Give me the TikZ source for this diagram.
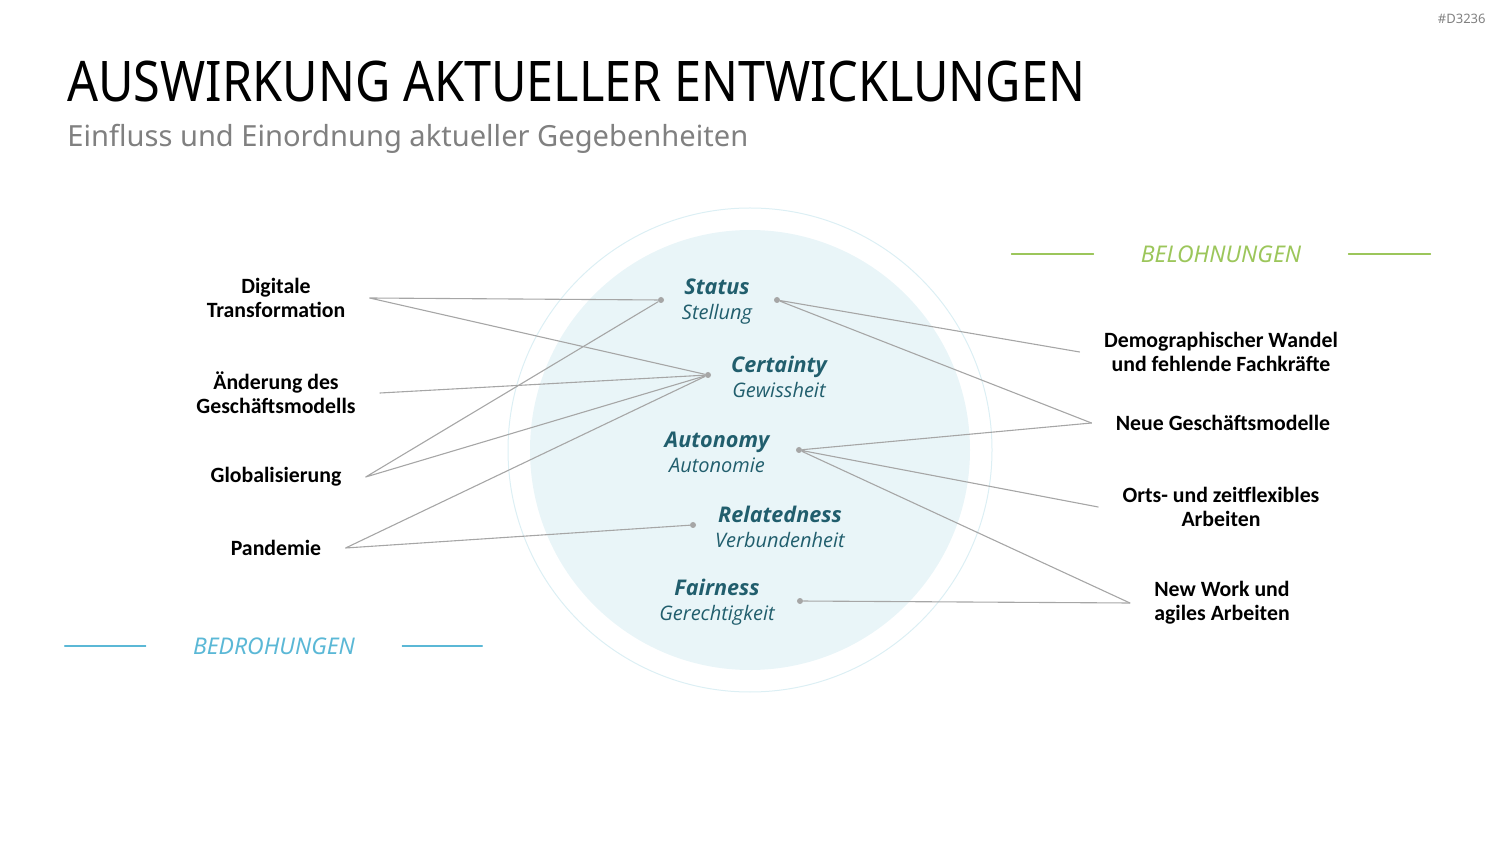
\documentclass[tikz,border=0pt]{standalone}
\usepackage{fontspec}
\setmainfont{Noto Sans}
\newfontfamily\labelfont{Carlito}
\newfontfamily\needfont{Open Sans}
\newfontfamily\titlefont[FakeStretch=0.868]{Noto Sans}
\usepackage{tikz}
\usetikzlibrary{positioning}
\definecolor{teal}{HTML}{215E6D}
\definecolor{wire}{HTML}{A6A6A6}
\definecolor{disk}{HTML}{E9F5F8}
\definecolor{ring}{HTML}{DCEFF4}
\definecolor{green}{HTML}{9CC65B}
\definecolor{blue}{HTML}{5BB8D6}
\definecolor{subgray}{HTML}{808080}
\newcommand{\needlabel}[2]{{\bfseries\fontsize{10.8}{12.5}\selectfont #1}\\#2}
\tikzset{
  every picture/.style={
    line join=round,
    line cap=round,
  },
  need/.style={font=\needfont\fontsize{10}{12.5}\selectfont\itshape, text=teal,
    align=center, inner sep=0pt},
  side/.style={font=\labelfont\bfseries\fontsize{10.9}{12}\selectfont,
    align=center, inner xsep=12pt, inner ysep=0pt},
  dot/.style={circle, fill=wire, inner sep=0pt, minimum size=3pt},
  wire/.style={draw=wire, line width=0.55pt},
  group/.style={font=\itshape\fontsize{11.5}{14}\selectfont, inner xsep=23.5pt},
}

\begin{document}
\begin{tikzpicture}[x=0.5pt, y=-0.5pt]
\useasboundingbox (0,0) rectangle (1500,844);
% heading
\node[anchor=base west, inner sep=0pt, font=\titlefont\fontsize{28}{30}\selectfont]
  (title) at (67,102) {AUSWIRKUNG AKTUELLER ENTWICKLUNGEN};
\node[anchor=base west, inner sep=0pt, text=subgray, font=\fontsize{14.55}{16}\selectfont]
  (subtitle) at (67,147) {Einfluss und Einordnung aktueller Gegebenheiten};
\node[anchor=base east, inner sep=0pt, text=gray, font=\fontsize{6.5}{7}\selectfont]
  (tag) at (1486,24) {\#D3236};

% circle
\draw[ring, line width=0.5pt] (750,450) circle (242);
\fill[disk] (750,450) circle (220);

% needs
\node[need] (st) at (717,302) {\needlabel{Status}{Stellung}};
\node[need] (ce) at (779,377) {\needlabel{Certainty}{Gewissheit}};
\node[need] (au) at (717,452) {\needlabel{Autonomy}{Autonomie}};
\node[need] (re) at (780,527) {\needlabel{Relatedness}{Verbundenheit}};
\node[need] (fa) at (717,602) {\needlabel{Fairness}{Gerechtigkeit}};

\node[dot] (st-l) at (661,300) {};
\node[dot] (st-r) at (777,300) {};
\node[dot] (ce-l) at (708,375) {};
\node[dot] (au-r) at (799,450) {};
\node[dot] (re-l) at (693,525) {};
\node[dot] (fa-r) at (800,601) {};

% threats
\node[side] (dt) at (276,298) {Digitale\\Transformation};
\node[side] (ag) at (276,393) {Änderung des\\Geschäftsmodells};
\node[side] (gl) at (276,477) {Globalisierung};
\node[side] (pa) at (276,548) {Pandemie};

% rewards
\node[side] (dw) at (1221,352) {Demographischer Wandel\\und fehlende Fachkräfte};
\node[side] (ng) at (1223,423) {Neue Geschäftsmodelle};
\node[side] (oz) at (1221,507) {Orts- und zeitflexibles\\Arbeiten};
\node[side] (nw) at (1222,603) {New Work und\\agiles Arbeiten};

\draw[wire] (dt.east) -- (st-l) (dt.east) -- (ce-l);
\draw[wire] (ag.east) -- (ce-l);
\draw[wire] (gl.east) -- (st-l) (gl.east) -- (ce-l);
\draw[wire] (pa.east) -- (ce-l) (pa.east) -- (re-l);

\draw[wire] (st-r) -- (dw.west) (st-r) -- (ng.west);
\draw[wire] (au-r) -- (ng.west) (au-r) -- (oz.west) (au-r) -- (nw.west);
\draw[wire] (fa-r) -- (nw.west);

% group headings
\node[group, text=green] (bel) at (1221,254) {BELOHNUNGEN};
\draw[green, line width=0.6pt] (bel.west) -- ++(-82,0) (bel.east) -- ++(82,0);
\node[group, text=blue] (bed) at (274,646) {BEDROHUNGEN};
\draw[blue, line width=0.6pt] (bed.west) -- ++(-81,0) (bed.east) -- ++(80,0);
\end{tikzpicture}
\end{document}
